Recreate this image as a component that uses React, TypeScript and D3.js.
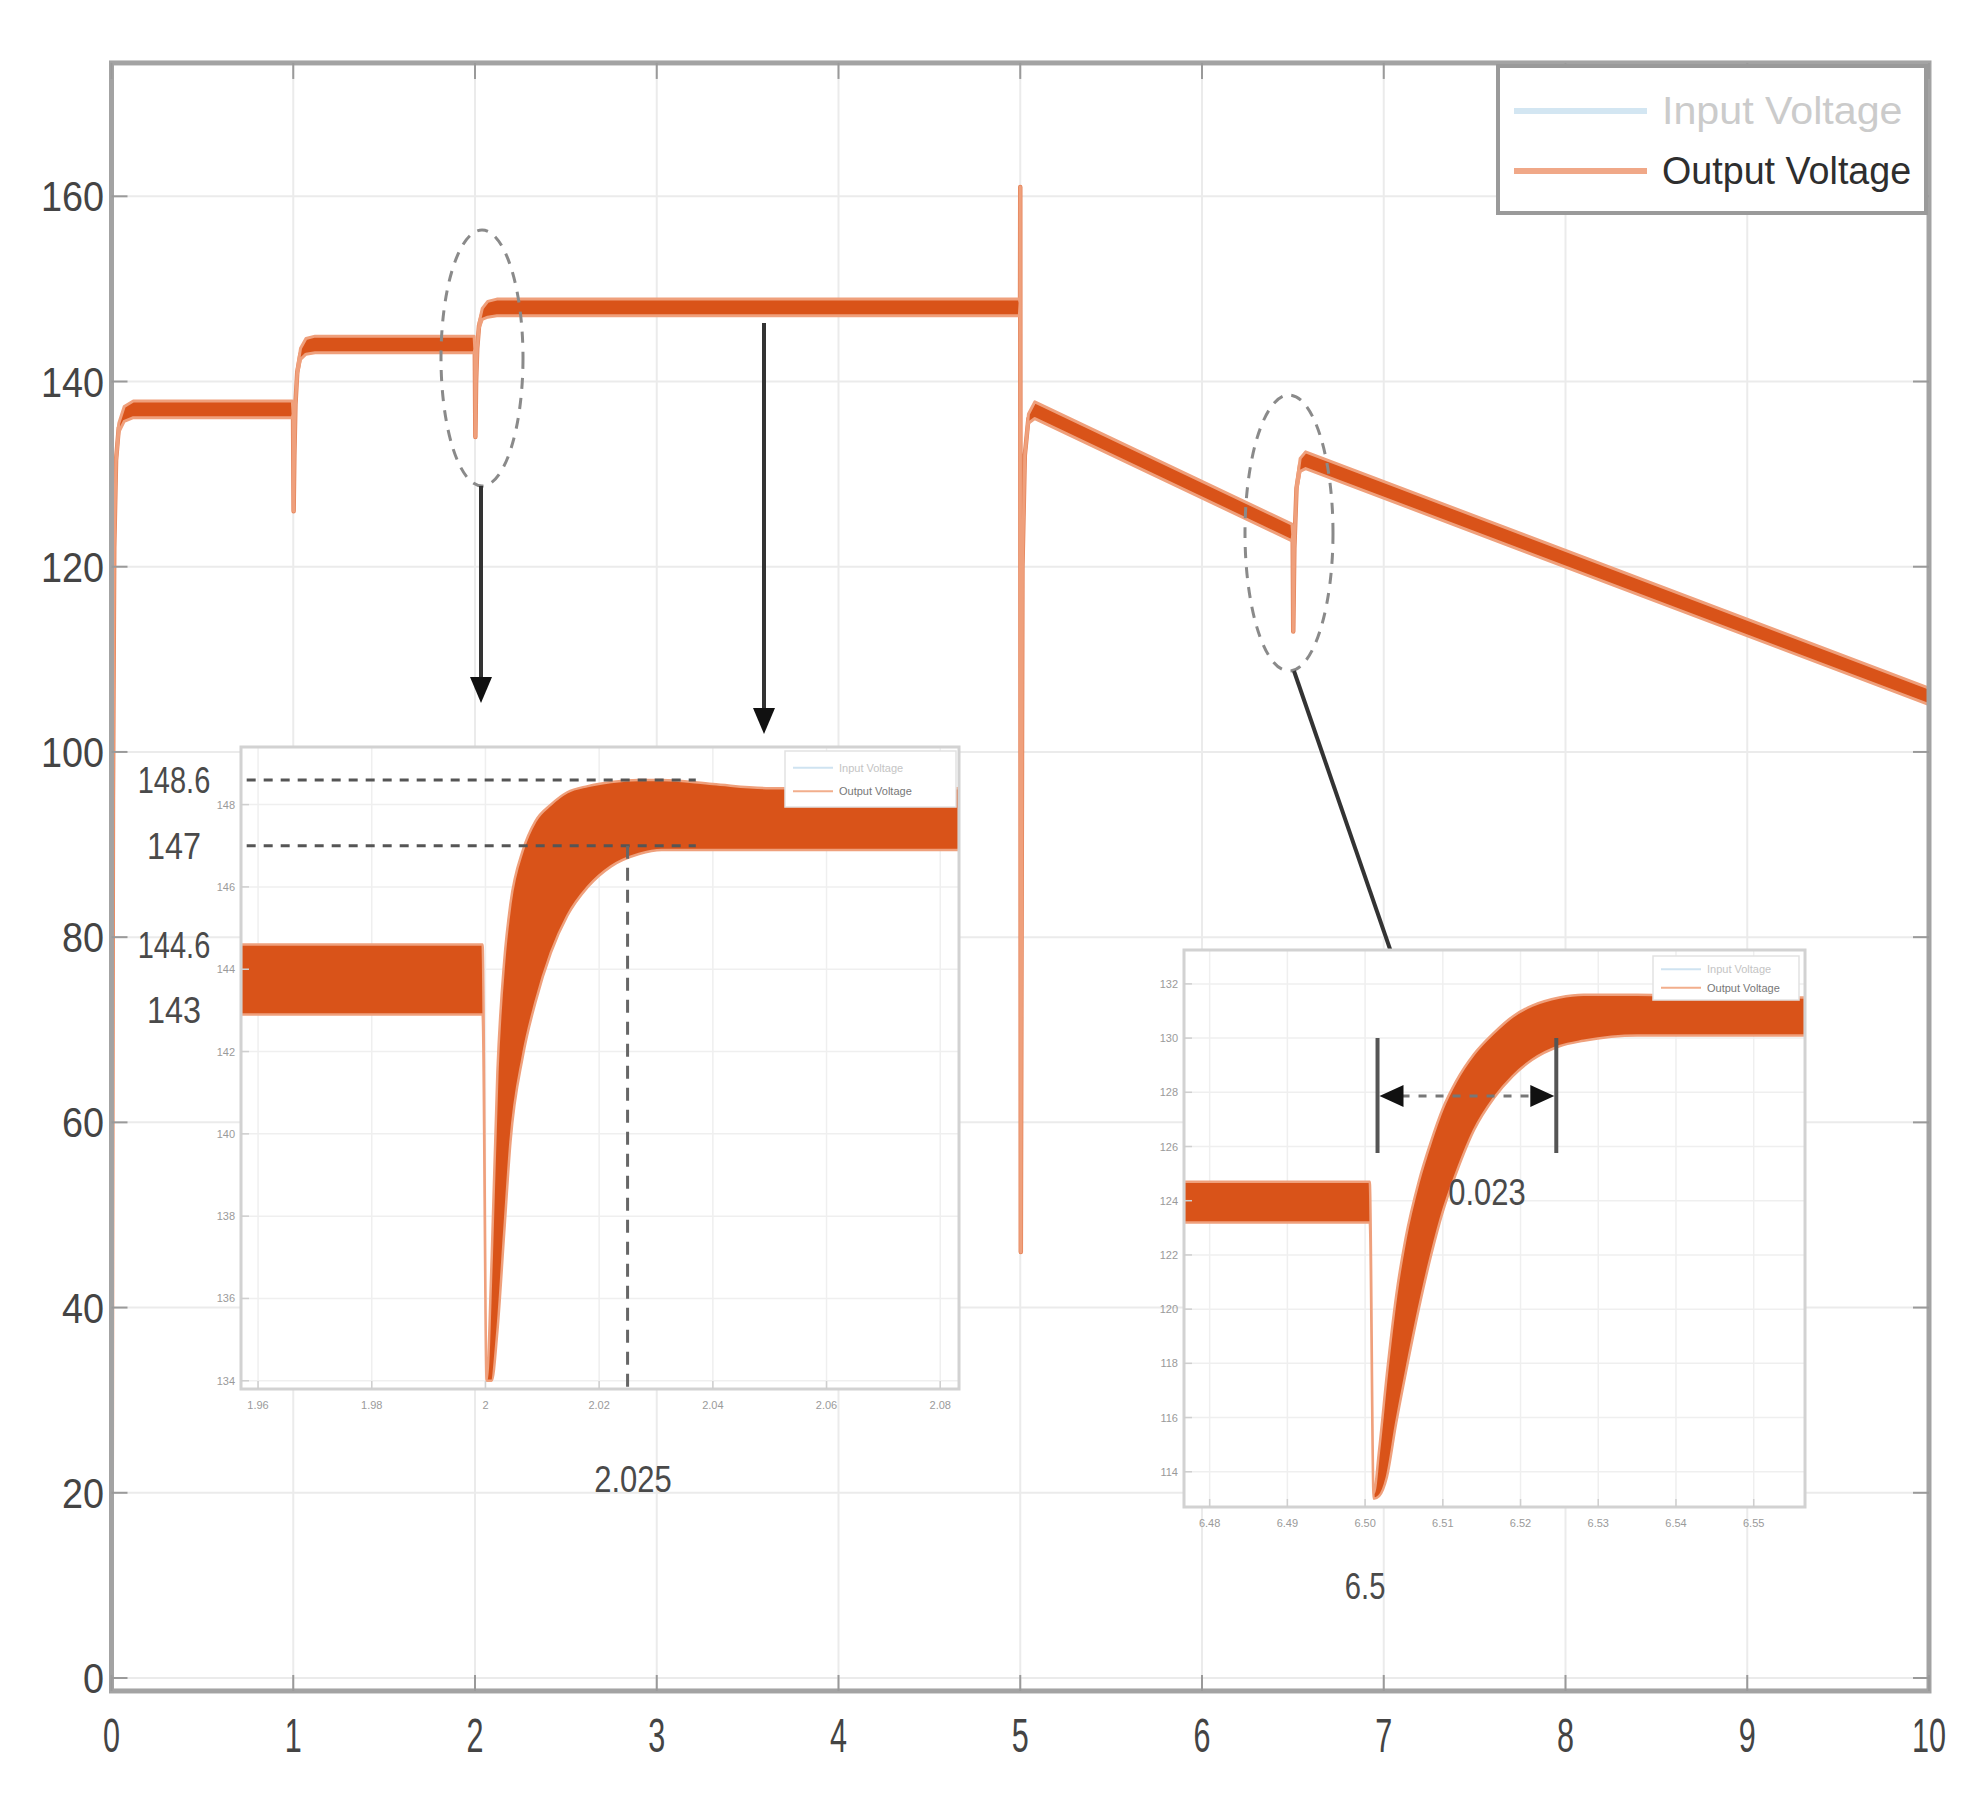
import React from "react";
import * as d3 from "d3";

const W = 1986;
const H = 1817;

// ---- main axes data ----
const xTicks = [0, 1, 2, 3, 4, 5, 6, 7, 8, 9, 10];
const yTicks = [0, 20, 40, 60, 80, 100, 120, 140, 160];

// Output voltage (time, centre value, ripple half-width)
const outTime = [0, 0.003, 0.008, 0.015, 0.025, 0.04, 0.07, 0.12, 0.995, 0.999, 1.002, 1.006, 1.012, 1.022, 1.04, 1.07, 1.12, 1.995, 1.999, 2.002, 2.006, 2.012, 2.022, 2.04, 2.07, 2.12, 4.995, 4.999, 5.0, 5.003, 5.012, 5.025, 5.045, 5.08, 6.495, 6.499, 6.502, 6.508, 6.52, 6.54, 6.57, 10];
const outVolt = [0, 45, 95, 122, 131.5, 135, 136.5, 137, 137, 136.5, 126, 132, 137.5, 141, 143, 143.8, 144, 144, 143.5, 134, 140, 143.5, 146, 147.3, 147.8, 148, 148, 148.5, 161, 46, 120, 132, 136, 136.9, 123.7, 123.5, 113, 122, 128.5, 131, 131.5, 106];
const outRipple = [0, 0, 0, 0, 0.2, 0.5, 0.8, 0.9, 0.9, 0, 0, 0, 0, 0.3, 0.6, 0.85, 0.9, 0.9, 0, 0, 0, 0, 0.3, 0.6, 0.85, 0.9, 0.9, 0, 0, 0, 0, 0, 0.5, 0.9, 0.9, 0, 0, 0, 0.3, 0.7, 0.9, 0.9];

const legendLabels = ["Input Voltage", "Output Voltage"];

// ---- inset 1 (zoom around t = 2) ----
const in1XTicks = [1.96, 1.98, 2, 2.02, 2.04, 2.06, 2.08];
const in1YTicks = [134, 136, 138, 140, 142, 144, 146, 148];
const in1Time = [1.957, 1.9995, 2.0002, 2.0011, 2.0021, 2.0033, 2.0044, 2.0066, 2.0088, 2.0115, 2.0144, 2.018, 2.0221, 2.027, 2.031, 2.04, 2.05, 2.0833];
const in1Upper = [144.6, 144.6, 134.0, 137.0, 141.5, 144.2, 145.6, 146.9, 147.6, 148.0, 148.3, 148.45, 148.55, 148.6, 148.6, 148.5, 148.4, 148.4];
const in1Lower = [142.9, 142.9, 134.0, 134.0, 135.2, 137.6, 139.8, 141.9, 143.2, 144.4, 145.3, 146.0, 146.5, 146.8, 146.9, 146.9, 146.9, 146.9];
const in1Marks = [148.6, 147, 144.6, 143];
const in1Settle = 2.025;

// ---- inset 2 (zoom around t = 6.5) ----
const in2XTicks = [6.48, 6.49, 6.5, 6.51, 6.52, 6.53, 6.54, 6.55];
const in2YTicks = [114, 116, 118, 120, 122, 124, 126, 128, 130, 132];
const in2Time = [6.4767, 6.5006, 6.5011, 6.5018, 6.5028, 6.504, 6.5052, 6.5069, 6.5085, 6.51, 6.5117, 6.514, 6.5166, 6.519, 6.5215, 6.525, 6.5281, 6.535, 6.545, 6.5566];
const in2Upper = [124.7, 124.7, 113.2, 114.8, 117.6, 120.5, 122.6, 124.7, 126.2, 127.4, 128.4, 129.4, 130.2, 130.8, 131.2, 131.5, 131.6, 131.6, 131.5, 131.5];
const in2Lower = [123.2, 123.2, 113.0, 113.1, 113.8, 115.8, 117.6, 120.0, 122.0, 123.6, 125.0, 126.6, 127.8, 128.6, 129.2, 129.7, 129.9, 130.1, 130.1, 130.1];
const in2Start = 6.5016;
const in2Span = 0.023;

const ORANGE = "#D95319";
const HALO = "#EFA07C";
const THIN = "#E5845A";

function NText(props: { x: number; y: number; text: string; size: number; cw: number; anchor?: string; fill?: string; weight?: string }) {
  const { x, y, text, size, cw, anchor = "middle", fill = "#444", weight = "normal" } = props;
  return (
    <text
      x={x}
      y={y}
      fontSize={size}
      fontFamily="Liberation Sans, Arial, sans-serif"
      textAnchor={anchor}
      fill={fill}
      fontWeight={weight}
      textLength={text.length * cw}
      lengthAdjust="spacingAndGlyphs"
    >
      {text}
    </text>
  );
}

function Arrow({ x1, y1, x2, y2 }: { x1: number; y1: number; x2: number; y2: number }) {
  const ang = Math.atan2(y2 - y1, x2 - x1);
  const len = 26;
  const half = 11;
  const bx = x2 - len * Math.cos(ang);
  const by = y2 - len * Math.sin(ang);
  const px = -Math.sin(ang) * half;
  const py = Math.cos(ang) * half;
  return (
    <g>
      <line x1={x1} y1={y1} x2={bx} y2={by} stroke="#333" strokeWidth={4} />
      <path d={`M${x2},${y2} L${bx + px},${by + py} L${bx - px},${by - py} Z`} fill="#111" />
    </g>
  );
}

function Inset(props: {
  x: d3.ScaleLinear<number, number>;
  y: d3.ScaleLinear<number, number>;
  xTicks: number[];
  yTicks: number[];
  time: number[];
  upper: number[];
  lower: number[];
  legend: [number, number, number, number];
  fmtX: (v: number) => string;
}) {
  const { x, y, xTicks: xt, yTicks: yt, time, upper, lower, legend } = props;
  const [x0, x1] = x.range();
  const [y0, y1] = y.range();
  const area = d3
    .area<number>()
    .x((_, i) => x(time[i]))
    .y0((_, i) => y(lower[i]))
    .y1((_, i) => y(upper[i]))
    .curve(d3.curveMonotoneX);
  const [lx, ly, lw, lh] = legend;
  const clipId = `clip-${Math.round(x0)}`;
  return (
    <g>
      <rect x={x0} y={y1} width={x1 - x0} height={y0 - y1} fill="#fff" />
      {xt.map((t) => (
        <line key={"gx" + t} x1={x(t)} x2={x(t)} y1={y1} y2={y0} stroke="#efefef" strokeWidth={1.5} />
      ))}
      {yt.map((t) => (
        <line key={"gy" + t} x1={x0} x2={x1} y1={y(t)} y2={y(t)} stroke="#efefef" strokeWidth={1.5} />
      ))}
      <defs>
        <clipPath id={clipId}>
          <rect x={x0} y={y1} width={x1 - x0} height={y0 - y1} />
        </clipPath>
      </defs>
      <g clipPath={`url(#${clipId})`}>
        <path d={area(time) || ""} fill={ORANGE} stroke={HALO} strokeWidth={2.5} />
      </g>
      <rect x={x0} y={y1} width={x1 - x0} height={y0 - y1} fill="none" stroke="#d2d2d2" strokeWidth={3} />
      {xt.map((t) => (
        <g key={"tx" + t}>
          <line x1={x(t)} x2={x(t)} y1={y0} y2={y0 - 8} stroke="#cfcfcf" strokeWidth={1.5} />
          <text x={x(t)} y={y0 + 20} fontSize={11} fill="#9a9a9a" textAnchor="middle" fontFamily="Liberation Sans, Arial, sans-serif">
            {props.fmtX(t)}
          </text>
        </g>
      ))}
      {yt.map((t) => (
        <g key={"ty" + t}>
          <line x1={x0} x2={x0 + 8} y1={y(t)} y2={y(t)} stroke="#cfcfcf" strokeWidth={1.5} />
          <text x={x0 - 6} y={y(t) + 4} fontSize={11} fill="#9a9a9a" textAnchor="end" fontFamily="Liberation Sans, Arial, sans-serif">
            {t}
          </text>
        </g>
      ))}
      <rect x={lx} y={ly} width={lw} height={lh} fill="#fff" stroke="#e2e2e2" strokeWidth={1.5} />
      <line x1={lx + 8} x2={lx + 48} y1={ly + lh * 0.3} y2={ly + lh * 0.3} stroke="#cfe3f1" strokeWidth={2} />
      <line x1={lx + 8} x2={lx + 48} y1={ly + lh * 0.72} y2={ly + lh * 0.72} stroke="#f2ae8c" strokeWidth={2} />
      <text x={lx + 54} y={ly + lh * 0.3 + 4} fontSize={11} fill="#c4c4c4" fontFamily="Liberation Sans, Arial, sans-serif">
        {legendLabels[0]}
      </text>
      <text x={lx + 54} y={ly + lh * 0.72 + 4} fontSize={11} fill="#777" fontFamily="Liberation Sans, Arial, sans-serif">
        {legendLabels[1]}
      </text>
    </g>
  );
}

export default function App() {
  const xM = d3.scaleLinear().domain([0, 10]).range([111.5, 1929]);
  const yM = d3.scaleLinear().domain([0, 160]).range([1678, 196.3]);
  const left = xM(0);
  const right = xM(10);
  const top = yM(174.4);
  const bottom = yM(-1.4);

  const idx = outTime.map((_, i) => i);
  const line = d3
    .line<number>()
    .x((i) => xM(outTime[i]))
    .y((i) => yM(outVolt[i]))
    .curve(d3.curveLinear);
  const band = d3
    .area<number>()
    .x((i) => xM(outTime[i]))
    .y0((i) => yM(outVolt[i] - outRipple[i]))
    .y1((i) => yM(outVolt[i] + outRipple[i]))
    .curve(d3.curveLinear);

  const xI1 = d3.scaleLinear().domain([1.957, 2.0833]).range([241, 959]);
  const yI1 = d3.scaleLinear().domain([133.8, 149.4]).range([1389, 747]);
  const xI2 = d3.scaleLinear().domain([6.4767, 6.5566]).range([1184, 1805]);
  const yI2 = d3.scaleLinear().domain([112.7, 133.25]).range([1507, 950]);

  const barL = xI2(in2Start);
  const barR = xI2(in2Start + in2Span);
  const barY = 1096;

  return (
    <svg width={W} height={H} style={{ position: "absolute", left: 0, top: 0, background: "#fff" }}>
      <rect x={0} y={0} width={W} height={H} fill="#fff" />
      {/* grid */}
      {xTicks.map((t) => (
        <line key={"gx" + t} x1={xM(t)} x2={xM(t)} y1={top} y2={bottom} stroke="#ebebeb" strokeWidth={2} />
      ))}
      {yTicks.map((t) => (
        <line key={"gy" + t} x1={left} x2={right} y1={yM(t)} y2={yM(t)} stroke="#ebebeb" strokeWidth={2} />
      ))}

      {/* output voltage */}
      <path d={line(idx) || ""} fill="none" stroke={THIN} strokeWidth={4.5} strokeLinejoin="round" />
      <path d={band(idx) || ""} fill={ORANGE} stroke={HALO} strokeWidth={3} strokeLinejoin="round" />

      {/* frame */}
      <rect x={left} y={top} width={right - left} height={bottom - top} fill="none" stroke="#a3a3a3" strokeWidth={5} />
      {xTicks.map((t) => (
        <g key={"tx" + t}>
          <line x1={xM(t)} x2={xM(t)} y1={bottom} y2={bottom - 16} stroke="#9a9a9a" strokeWidth={2} />
          <line x1={xM(t)} x2={xM(t)} y1={top} y2={top + 16} stroke="#9a9a9a" strokeWidth={2} />
          <NText x={xM(t)} y={1752} text={String(t)} size={48} cw={17} fill="#444" />
        </g>
      ))}
      {yTicks.map((t) => (
        <g key={"ty" + t}>
          <line x1={left} x2={left + 16} y1={yM(t)} y2={yM(t)} stroke="#9a9a9a" strokeWidth={2} />
          <line x1={right} x2={right - 16} y1={yM(t)} y2={yM(t)} stroke="#9a9a9a" strokeWidth={2} />
          <NText x={104} y={yM(t) + 15} text={String(t)} size={42} cw={21} anchor="end" fill="#444" />
        </g>
      ))}

      {/* legend */}
      <rect x={1498} y={66} width={428} height={147} fill="#fff" stroke="#9a9a9a" strokeWidth={4} />
      <line x1={1514} x2={1647} y1={111} y2={111} stroke="#d3e6f2" strokeWidth={6} />
      <line x1={1514} x2={1647} y1={171} y2={171} stroke="#f0a888" strokeWidth={6} />
      <NText x={1662} y={124} text={legendLabels[0]} size={38} cw={18.5} anchor="start" fill="#cbcbcb" />
      <NText x={1662} y={184} text={legendLabels[1]} size={38} cw={17.8} anchor="start" fill="#2e2e2e" />

      {/* ellipses */}
      <ellipse cx={482} cy={358} rx={41} ry={128} fill="none" stroke="#8a8a8a" strokeWidth={3} strokeDasharray="11 9" />
      <ellipse cx={1289} cy={533} rx={44} ry={138} fill="none" stroke="#8a8a8a" strokeWidth={3} strokeDasharray="11 9" />

      {/* arrows */}
      <Arrow x1={481} y1={486} x2={481} y2={703} />
      <Arrow x1={764} y1={323} x2={764} y2={734} />
      <Arrow x1={1294} y1={671} x2={1410} y2={1007} />

      {/* inset 1 */}
      <Inset
        x={xI1}
        y={yI1}
        xTicks={in1XTicks}
        yTicks={in1YTicks}
        time={in1Time}
        upper={in1Upper}
        lower={in1Lower}
        legend={[785, 751, 171, 56]}
        fmtX={(v) => d3.format(".2f")(v).replace(/\.?0+$/, "")}
      />
      {in1Marks.slice(0, 2).map((m) => (
        <line key={"hd" + m} x1={xI1(1.958)} x2={xI1(2.037)} y1={yI1(m)} y2={yI1(m)} stroke="#555" strokeWidth={3} strokeDasharray="9 8" />
      ))}
      <line x1={xI1(in1Settle)} x2={xI1(in1Settle)} y1={yI1(in1Marks[1])} y2={1389} stroke="#666" strokeWidth={3} strokeDasharray="13 9" />
      {in1Marks.map((m) => (
        <NText key={"lab" + m} x={174} y={yI1(m) + 13} text={String(m)} size={36} cw={m % 1 === 0 ? 18 : 14.5} fill="#4a4a4a" />
      ))}
      <NText x={633} y={1492} text={String(in1Settle)} size={36} cw={15.5} fill="#4a4a4a" />

      {/* inset 2 */}
      <Inset
        x={xI2}
        y={yI2}
        xTicks={in2XTicks}
        yTicks={in2YTicks}
        time={in2Time}
        upper={in2Upper}
        lower={in2Lower}
        legend={[1653, 956, 146, 44]}
        fmtX={(v) => d3.format(".2f")(v)}
      />
      <line x1={barL} x2={barL} y1={1038} y2={1153} stroke="#555" strokeWidth={4} />
      <line x1={barR} x2={barR} y1={1038} y2={1153} stroke="#555" strokeWidth={4} />
      <line x1={barL + 24} x2={barR - 24} y1={barY} y2={barY} stroke="#777" strokeWidth={3} strokeDasharray="8 9" />
      <path d={`M${barL + 2},${barY} L${barL + 26},${barY - 11} L${barL + 26},${barY + 11} Z`} fill="#111" />
      <path d={`M${barR - 2},${barY} L${barR - 26},${barY - 11} L${barR - 26},${barY + 11} Z`} fill="#111" />
      <NText x={(barL + barR) / 2 + 20} y={1205} text={String(in2Span)} size={36} cw={15.5} fill="#4a4a4a" />
      <NText x={xI2(6.5)} y={1599} text="6.5" size={36} cw={13.5} fill="#4a4a4a" />
    </svg>
  );
}
